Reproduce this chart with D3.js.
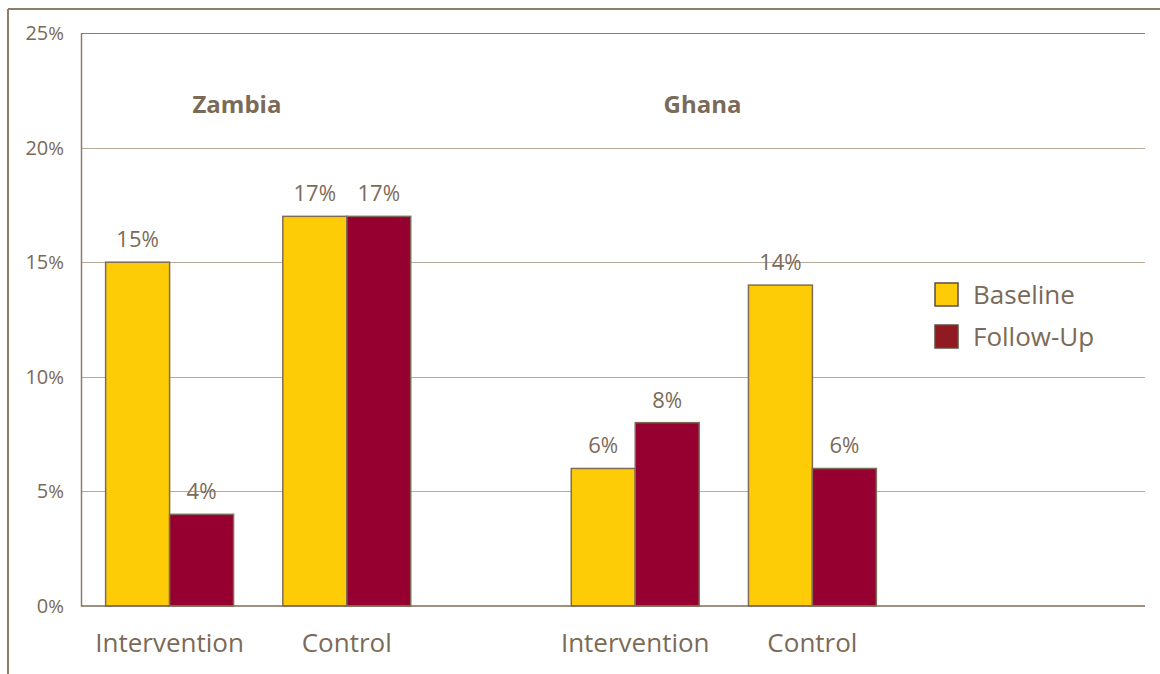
<!DOCTYPE html>
<html lang="en">
<head>
    <meta charset="UTF-8">
    <title>Baseline vs Follow-Up</title>
    <script src="https://d3js.org/d3.v7.min.js"></script>
    <style>
        body {margin:0;background:#fff}
        text {font-family:"Open Sans", sans-serif;fill:#7b6a58}
    </style>
</head>
<body>
    <div id="chart"></div>
    <script>
        // data
        var countries = ["Zambia", "Ghana"];
        var arms = ["Intervention", "Control"];
        var series = ["baseline", "followUp"];
        // values per country, per arm: [Intervention, Control]
        var baseline = { Zambia: [15, 17], Ghana: [6, 14] };
        var followUp = { Zambia: [4, 17], Ghana: [8, 6] };
        var yTicks = [0, 5, 10, 15, 20, 25];

        var W = 1160, H = 674;
        var margin = { top: 33, right: 15, bottom: 68, left: 81 };
        var w = W - margin.left - margin.right;
        var h = H - margin.top - margin.bottom;

        var brown = "#7b6a58";
        var colors = { baseline: "#fecc07", followUp: "#960030" };

        var root = d3.select("#chart").append("svg")
            .attr("width", W).attr("height", H);

        // outer frame (top + left)
        root.append("line").attr("x1", 8).attr("x2", W).attr("y1", 9).attr("y2", 9)
            .attr("stroke", "#8c7c69").attr("stroke-width", 2);
        root.append("line").attr("x1", 8).attr("x2", 8).attr("y1", 9).attr("y2", H)
            .attr("stroke", "#8c7c69").attr("stroke-width", 2);

        var svg = root.append("g").attr("transform", `translate(${margin.left},${margin.top})`);

        // country groups take the left part of the plot, legend sits in the rest
        var x0 = d3.scaleBand().domain(countries).range([0, 820]).paddingInner(0.239).paddingOuter(0);
        var x1 = d3.scaleBand().domain(arms).range([0, x0.bandwidth()]);
        var barPad = 0.139;
        var x2 = d3.scaleBand().domain(series).range([x1.bandwidth() * barPad, x1.bandwidth() * (1 - barPad)]);
        var y = d3.scaleLinear().domain([0, 25]).range([h, 0]);

        // gridlines
        svg.append("g").selectAll("line").data(yTicks.filter(d => d > 0)).enter().append("line")
            .attr("x1", 0).attr("x2", w)
            .attr("y1", d => Math.round(y(d)) + 0.5).attr("y2", d => Math.round(y(d)) + 0.5)
            .attr("stroke", d => d === 25 ? "#8c7c69" : "#b5aa9c").attr("stroke-width", 1.2);

        // y axis
        var yAxis = svg.append("g").call(d3.axisLeft(y).tickValues(yTicks).tickSize(0).tickPadding(17).tickFormat(d => d));
        yAxis.select(".domain").attr("stroke", "#8c7c69").attr("stroke-width", 1.5);
        yAxis.selectAll(".tick text").attr("font-size", 20).attr("fill", brown)
            .attr("font-family", "'Open Sans', sans-serif")
            .append("tspan").attr("font-size", 19).text("%");

        // bars
        var rows = [];
        countries.forEach(c => arms.forEach((a, i) => rows.push({ country: c, arm: a, baseline: baseline[c][i], followUp: followUp[c][i] })));

        var groups = svg.selectAll(".grp").data(rows).enter().append("g")
            .attr("transform", d => `translate(${x0(d.country) + x1(d.arm)},0)`);

        groups.selectAll("rect").data(d => series.map(k => ({ key: k, value: d[k] })))
            .enter().append("rect")
            .attr("x", d => x2(d.key))
            .attr("y", d => y(d.value))
            .attr("width", x2.bandwidth())
            .attr("height", d => h - y(d.value))
            .attr("fill", d => colors[d.key])
            .attr("stroke", "#7e6c58").attr("stroke-width", 1.5);

        // value labels
        var vl = groups.selectAll(".val").data(d => series.map(k => ({ key: k, value: d[k] })))
            .enter().append("text")
            .attr("x", d => x2(d.key) + x2.bandwidth() / 2)
            .attr("y", d => y(d.value) - 15)
            .attr("text-anchor", "middle")
            .attr("font-size", 22)
            .text(d => d.value);
        vl.append("tspan").attr("font-size", 21).text("%");

        // bottom axis line
        svg.append("line").attr("x1", 0).attr("x2", w).attr("y1", h).attr("y2", h)
            .attr("stroke", "#7e6c58").attr("stroke-width", 1.6);

        // category labels
        groups.append("text")
            .attr("x", x1.bandwidth() / 2)
            .attr("y", h + 46)
            .attr("text-anchor", "middle")
            .attr("font-size", 26)
            .text(d => d.arm);

        // country titles
        svg.selectAll(".country").data(countries).enter().append("text")
            .attr("x", d => x0(d) + x0.bandwidth() * 0.44)
            .attr("y", 80)
            .attr("text-anchor", "middle")
            .attr("font-size", 24).attr("font-weight", "bold")
            .text(d => d);

        // legend
        var legendItems = [
            { label: "Baseline", color: "#fecc07" },
            { label: "Follow-Up", color: "#8f1a22" }
        ];
        var lg = svg.append("g").attr("transform", `translate(${854},${250})`);
        var li = lg.selectAll("g").data(legendItems).enter().append("g")
            .attr("transform", (d, i) => `translate(0,${i * 42})`);
        li.append("rect").attr("width", 23).attr("height", 23)
            .attr("fill", d => d.color).attr("stroke", "#5e4e40").attr("stroke-width", 1.5);
        li.append("text").attr("x", 38).attr("y", 12).attr("dy", "0.36em")
            .attr("font-size", 26).text(d => d.label);
    </script>
</body>
</html>
